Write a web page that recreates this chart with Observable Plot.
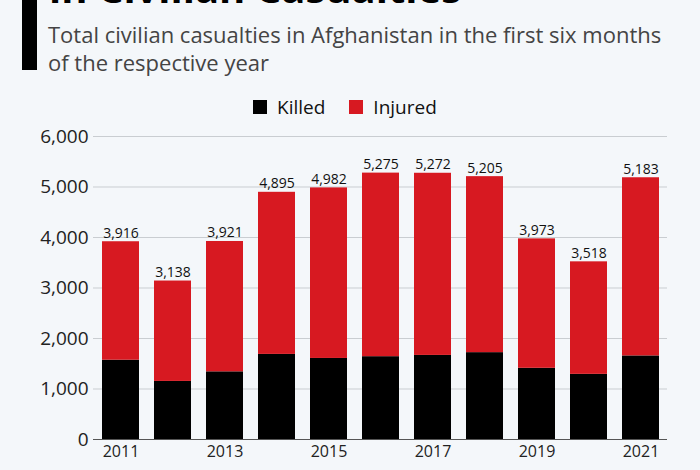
<!DOCTYPE html>
<html>
<head>
<meta charset="utf-8">
<script src="https://cdn.jsdelivr.net/npm/d3@7"></script>
<script src="https://cdn.jsdelivr.net/npm/@observablehq/plot@0.6"></script>
<style>
  html, body { margin: 0; padding: 0; background: #f4f7fa; width: 700px; height: 470px; overflow: hidden; font-family: "Open Sans", sans-serif; }
  #wrap { position: relative; width: 700px; height: 470px; }
  #bar { position: absolute; left: 22px; top: 0; width: 15px; height: 70px; background: #000; }
  #title { position: absolute; left: 49px; top: -32px; font-size: 40px; font-weight: 700; color: #000; white-space: nowrap; line-height: 1; }
  #subtitle { position: absolute; left: 48px; top: 20px; font-size: 22px; color: #444; line-height: 28px; white-space: nowrap; }
  #legend { position: absolute; left: 253px; top: 94px; font-size: 19px; color: #111; display: flex; align-items: center; gap: 0; }
  .sw { display: inline-block; width: 14px; height: 14px; margin-right: 10px; }
  .item { display: flex; align-items: center; margin-right: 24px; }
  #chart { position: absolute; left: 0; top: 120px; }
</style>
</head>
<body>
<div id="wrap">
  <div id="bar"></div>
  <div id="title">in Civilian Casualties</div>
  <div id="subtitle">Total civilian casualties in Afghanistan in the first six months<br>of the respective year</div>
  <div id="legend"></div>
  <div id="chart"></div>
</div>
<script>
const years = [2011, 2012, 2013, 2014, 2015, 2016, 2017, 2018, 2019, 2020, 2021];
const totals = [3916, 3138, 3921, 4895, 4982, 5275, 5272, 5205, 3973, 3518, 5183];
const killed = [1570, 1150, 1340, 1685, 1605, 1640, 1665, 1720, 1410, 1290, 1655];
const seriesNames = ["Killed", "Injured"];
const seriesColors = ["#000000", "#d71921"];
const yTicks = [0, 1000, 2000, 3000, 4000, 5000, 6000];
const xTickLabels = [2011, 2013, 2015, 2017, 2019, 2021];

const rows = [];
years.forEach((yr, i) => {
  rows.push({year: yr, type: "Killed", value: killed[i]});
  rows.push({year: yr, type: "Injured", value: totals[i] - killed[i]});
});
const totalRows = years.map((yr, i) => ({year: yr, total: totals[i]}));

const legend = document.getElementById("legend");
seriesNames.forEach((n, i) => {
  const it = document.createElement("span");
  it.className = "item";
  it.innerHTML = `<span class="sw" style="background:${seriesColors[i]}"></span>${n}`;
  legend.appendChild(it);
});

const fmt = d3.format(",");
const chart = Plot.plot({
  width: 700,
  height: 350,
  marginTop: 16,
  marginBottom: 31,
  marginLeft: 93,
  marginRight: 33,
  style: { background: "transparent", fontFamily: "Open Sans, sans-serif", color: "#222" },
  x: { type: "band", domain: years, paddingInner: 0.29, paddingOuter: 0.135, label: null },
  y: { domain: [0, 6000], label: null },
  color: { domain: seriesNames, range: seriesColors },
  marks: [
    Plot.gridY(yTicks, { stroke: "#c9cdd1", strokeOpacity: 1, strokeWidth: 1 }),
    Plot.barY(rows, { x: "year", y: "value", fill: "type", order: seriesNames }),
    Plot.ruleY([0], { stroke: "#555", strokeWidth: 1.2 }),
    Plot.text(totalRows, { x: "year", y: "total", text: d => fmt(d.total), lineAnchor: "bottom", dy: -4, fontSize: 14, fill: "#111" }),
    Plot.axisY(yTicks, { tickSize: 0, tickPadding: 5, fontSize: 19, tickFormat: fmt, fill: "#222" }),
    Plot.axisX(xTickLabels, { tickSize: 0, tickPadding: 6, fontSize: 16, fill: "#222", tickFormat: d => String(d) })
  ]
});
document.getElementById("chart").appendChild(chart);
</script>
</body>
</html>
